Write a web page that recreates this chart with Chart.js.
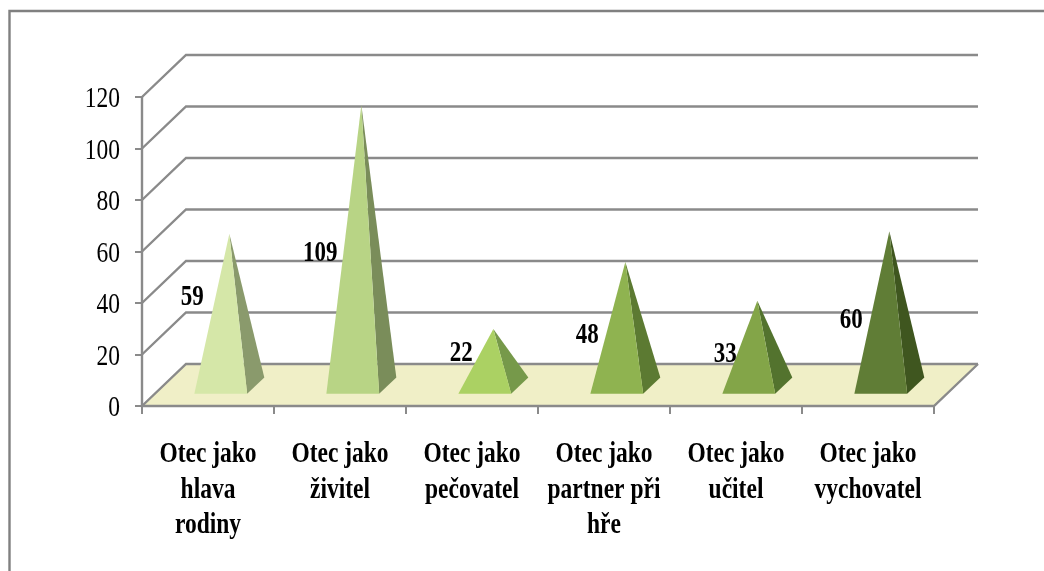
<!DOCTYPE html>
<html lang="cs">
<head>
<meta charset="utf-8">
<title>Otec jako</title>
<style>
html,body{margin:0;padding:0;background:#fff;overflow:hidden}
canvas{display:block;filter:blur(0.6px)}
</style>
<script src="https://cdn.jsdelivr.net/npm/chart.js@4"></script>
</head>
<body>
<canvas id="c" width="1044" height="571"></canvas>
<script>
const categories = [
  ["Otec jako", "hlava", "rodiny"],
  ["Otec jako", "živitel"],
  ["Otec jako", "pečovatel"],
  ["Otec jako", "partner při", "hře"],
  ["Otec jako", "učitel"],
  ["Otec jako", "vychovatel"]
];
const values = [59, 109, 22, 48, 33, 60];
const yTicks = [0, 20, 40, 60, 80, 100, 120];
const frontColors = ["#d5e7a8", "#b8d485", "#abd163", "#8fb350", "#83a548", "#607d36"];
const sideColors  = ["#8a9a6c", "#7a8d5a", "#76994a", "#5c7a32", "#53732e", "#3f561f"];
const labelNudgeX = [-37, -41, -32, -38, -32, -38];
const labelNudgeY = [-15, 6, -6, 9, 9, 10];

const DEPTH_X = 44, DEPTH_Y = 42;
const FRONT_T = 0.29, BACK_T = 0.68;
const LINE = "#8a8a8a";
const SERIF = '"Liberation Serif","Times New Roman",serif';
const TEXT_STRETCH = 1.27;
const TEXT_DROP = 2.5;

const canvas = document.getElementById("c");
const rawCtx = canvas.getContext("2d");
// The reference's lettering is tall and narrow: stretch each line about its anchor.
const plainFillText = rawCtx.fillText.bind(rawCtx);
rawCtx.fillText = function (text, x, y, maxWidth) {
  rawCtx.save();
  rawCtx.translate(x, y + TEXT_DROP);
  rawCtx.scale(1, TEXT_STRETCH);
  if (maxWidth === undefined) plainFillText(text, 0, 0);
  else plainFillText(text, 0, 0, maxWidth);
  rawCtx.restore();
};

const scene = {
  id: "scene",
  beforeDatasetsDraw(chart) {
    const { ctx, scales: { x, y } } = chart;
    const l = x.left, r = x.right, b = y.getPixelForValue(0);
    ctx.save();
    ctx.beginPath();
    ctx.moveTo(l, b);
    ctx.lineTo(r, b);
    ctx.lineTo(r + DEPTH_X, b - DEPTH_Y);
    ctx.lineTo(l + DEPTH_X, b - DEPTH_Y);
    ctx.closePath();
    ctx.fillStyle = "#f0efc7";
    ctx.fill();
    ctx.strokeStyle = LINE;
    ctx.lineWidth = 2.4;
    yTicks.forEach(v => {
      const py = y.getPixelForValue(v);
      ctx.beginPath();
      ctx.moveTo(l, py);
      ctx.lineTo(l + DEPTH_X, py - DEPTH_Y);
      ctx.lineTo(r + DEPTH_X, py - DEPTH_Y);
      ctx.stroke();
    });
    ctx.beginPath();
    ctx.moveTo(r + DEPTH_X, b - DEPTH_Y);
    ctx.lineTo(r, b);
    ctx.lineTo(l, b);
    ctx.lineTo(l, y.getPixelForValue(120));
    ctx.stroke();
    ctx.restore();
  },
  afterDatasetsDraw(chart) {
    const { ctx, scales: { y } } = chart;
    const meta = chart.getDatasetMeta(0);
    const y0 = y.getPixelForValue(0);
    ctx.save();
    meta.data.forEach((bar, i) => {
      const half = bar.width / 2;
      const fx = bar.x + DEPTH_X * FRONT_T, fy = y0 - DEPTH_Y * FRONT_T;
      const bx = bar.x + DEPTH_X * BACK_T, by = y0 - DEPTH_Y * BACK_T;
      const t = (FRONT_T + BACK_T) / 2;
      const ax = bar.x + DEPTH_X * t, ay = bar.y - DEPTH_Y * t;
      ctx.beginPath();
      ctx.moveTo(fx + half, fy);
      ctx.lineTo(bx + half, by);
      ctx.lineTo(ax, ay);
      ctx.closePath();
      ctx.fillStyle = sideColors[i];
      ctx.fill();
      ctx.beginPath();
      ctx.moveTo(fx - half, fy);
      ctx.lineTo(fx + half, fy);
      ctx.lineTo(ax, ay);
      ctx.closePath();
      ctx.fillStyle = frontColors[i];
      ctx.fill();
    });
    ctx.font = "bold 23px " + SERIF;
    ctx.fillStyle = "#000";
    ctx.textAlign = "center";
    ctx.textBaseline = "middle";
    meta.data.forEach((bar, i) => {
      const mid = y.getPixelForValue(values[i] / 2);
      ctx.fillText(String(values[i]), bar.x + DEPTH_X * 0.485 + labelNudgeX[i],
        mid - DEPTH_Y * 0.485 + labelNudgeY[i]);
    });
    ctx.restore();
  },
  beforeDraw(chart) {
    const { ctx, width, height } = chart;
    ctx.save();
    ctx.strokeStyle = "#808080";
    ctx.lineWidth = 2.4;
    ctx.beginPath();
    ctx.moveTo(9.5, height);
    ctx.lineTo(9.5, 11);
    ctx.lineTo(width, 11);
    ctx.stroke();
    ctx.restore();
  }
};

new Chart(canvas, {
  type: "bar",
  data: {
    labels: categories,
    datasets: [{
      data: values,
      backgroundColor: "rgba(0,0,0,0)",
      borderWidth: 0,
      barPercentage: 0.4,
      categoryPercentage: 1
    }]
  },
  plugins: [scene],
  options: {
    responsive: false,
    animation: false,
    devicePixelRatio: 1,
    layout: { padding: { left: 0, top: 97, right: 110, bottom: 0 } },
    plugins: { legend: { display: false }, tooltip: { enabled: false }, title: { display: false } },
    scales: {
      x: {
        border: { color: LINE, width: 2 },
        grid: { display: true, drawOnChartArea: false, drawTicks: true, color: LINE, lineWidth: 2, tickLength: 8, offset: true },
        ticks: {
          color: "#000", maxRotation: 0, minRotation: 0, autoSkip: false, padding: 20.5,
          font: { family: SERIF, size: 23.5, weight: "bold", lineHeight: 1.5 }
        },
        afterFit(s) { s.height = 165; }
      },
      y: {
        min: 0, max: 120,
        border: { color: LINE, width: 2 },
        grid: { display: true, drawOnChartArea: false, drawTicks: true, color: LINE, lineWidth: 2, tickLength: 7 },
        ticks: {
          color: "#000", padding: 15,
          stepSize: 20,
          font: { family: SERIF, size: 23.5 }
        },
        afterFit(s) { s.width = 142; }
      }
    }
  }
});
</script>
</body>
</html>
